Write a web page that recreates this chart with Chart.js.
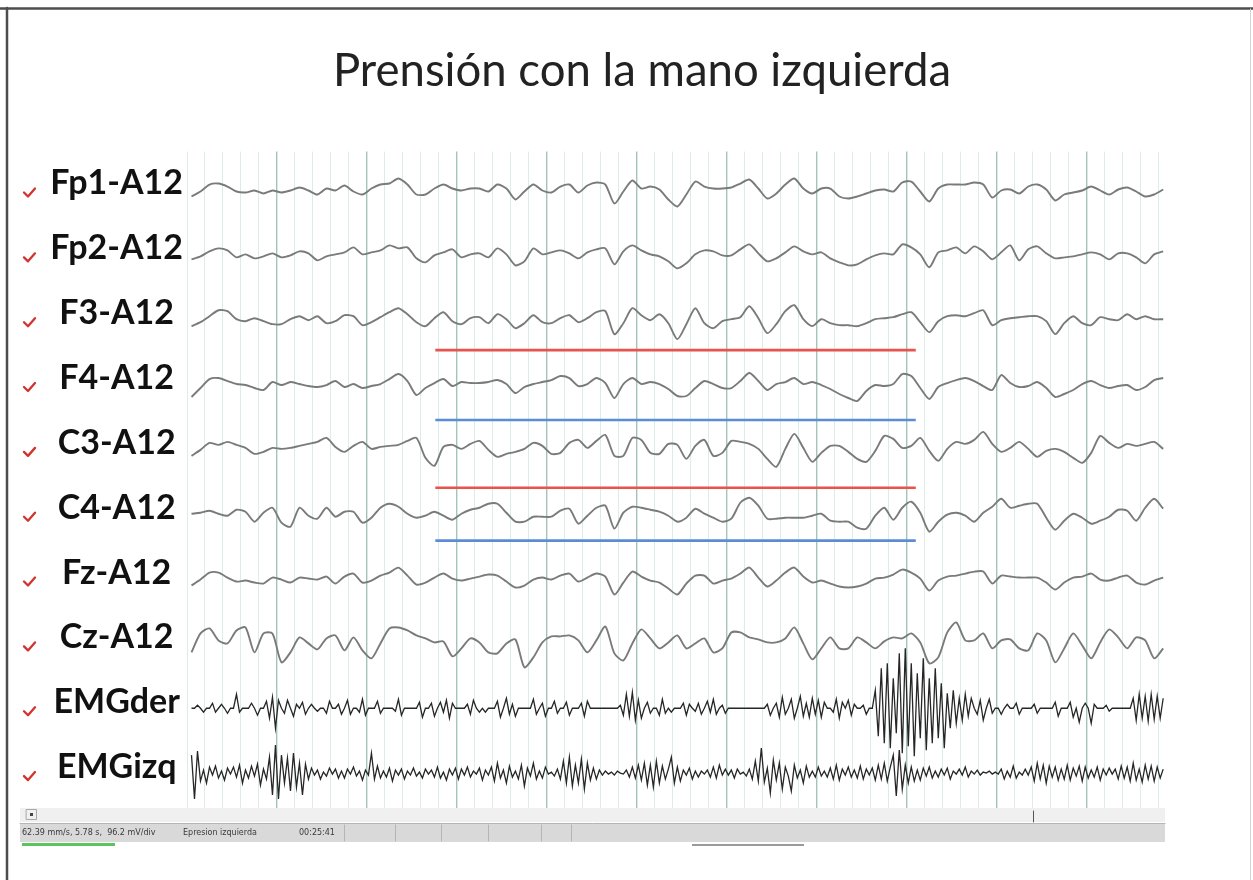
<!DOCTYPE html>
<html lang="es">
<head>
<meta charset="UTF-8">
<title>Prensión con la mano izquierda</title>
<script src="https://cdn.jsdelivr.net/npm/chart.js@4.4.1/dist/chart.umd.min.js"></script>
<style>
  html, body { margin: 0; padding: 0; background: #fff; }
  canvas { display: block; }
</style>
</head>
<body>
<canvas id="eeg" width="1253" height="880"></canvas>
<script>
// montage, top to bottom
const channels = ['Fp1-A12', 'Fp2-A12', 'F3-A12', 'F4-A12', 'C3-A12', 'C4-A12', 'Fz-A12', 'Cz-A12', 'EMGder', 'EMGizq'];

// EEG samples, one every 0.1 div, deflection in px (up = positive)
const fp1 = [-7,-2,5,6,3,-2,-3,-1,-4,-1, -3,-1,2,-1,-5,1,-1,4,-2,-5, 1,5,6,11,5,-5,-5,1,5,1,
  -1,1,1,-2,5,1,-10,-2,5,-1, -3,3,5,-3,4,7,5,-14,-2,9, 1,3,0,-10,-17,-5,8,3,1,1,
  2,6,10,1,-9,-4,5,11,1,-4, 1,1,-7,-9,-7,-4,-1,0,-2,7, 8,-2,-12,1,5,5,5,7,5,-8,
  -1,0,-4,3,5,0,-11,-5,-3,-1, 3,-1,-5,0,2,-2,-7,-5,0];
const fp2 = [-5,-2,3,6,4,-3,0,-4,-2,1, -3,-1,3,1,-6,-2,0,2,7,0, 2,4,9,6,7,-4,-8,-1,2,5,
  -3,0,1,-3,6,0,-11,-7,6,0, 2,4,1,-4,2,5,6,-10,3,9, 4,0,-2,-7,-14,-9,0,4,3,-1,
  -1,5,10,1,-7,-4,2,8,3,0, 2,-4,-8,-11,-10,-5,-1,1,0,10, 7,0,-13,2,4,7,1,8,3,-5,
  2,9,-6,5,8,1,-4,-3,-2,0, 2,0,-5,1,1,-3,-9,0,3];
const f3 = [-7,-3,3,9,8,0,-2,1,-2,-5, -5,0,3,-1,3,-4,-2,4,3,-6, -3,2,7,11,5,-3,-7,1,7,-2,
  -5,1,2,-4,5,0,-9,-4,4,-3, -4,1,4,-3,1,7,8,-15,-4,11, 4,-1,5,-4,-20,-5,11,-4,-9,-2,
  0,2,13,1,-14,-5,8,14,0,-7, 0,-4,-6,-6,-7,-4,0,1,2,5, 7,-3,-13,-2,3,4,3,6,9,-6,
  -1,1,2,3,3,-2,-15,-4,3,-4, -6,2,0,-1,5,0,3,0,0];
const f4 = [-13,-4,5,6,3,0,-1,-4,-6,2, -1,2,0,-2,-3,-1,3,-3,0,-4, -2,0,5,10,3,-11,-4,1,5,-2,
  2,1,1,2,4,0,-9,-3,0,2, 4,8,6,-2,0,6,1,-14,0,6, 0,2,0,-5,-12,-12,-4,3,0,-4,
  -4,3,11,3,-6,0,2,6,0,2, -1,-5,-10,-14,-17,-7,-1,-2,0,10, 8,-4,-15,-3,1,4,6,3,-2,-6,
  9,1,-3,-2,2,-4,-13,-10,-6,0, 3,-1,-4,-2,-1,-6,-3,4,6];
const c3 = [-7,-1,6,4,7,4,1,-5,-3,1, 0,1,3,5,7,11,2,-3,3,7, 0,2,3,4,8,11,-9,-17,2,4,
  0,5,8,-1,-8,-5,-3,0,6,3, -5,-4,6,9,1,8,14,-7,-7,11, 9,-4,-5,5,4,-10,3,9,-7,-4,
  8,7,5,0,-10,-18,0,15,1,-13, -4,3,3,-3,-10,-13,-2,13,10,1, 3,11,-2,-12,0,7,5,9,17,5,
  -3,1,7,0,-8,-2,0,-3,-9,-14, -4,13,6,1,5,3,5,7,0];
const c4 = [0,1,3,0,-2,4,2,-8,1,6, -9,-13,6,-2,-5,6,-3,2,2,-9, -4,6,10,7,0,-4,-2,2,-2,-6,
  0,4,6,10,10,1,-8,-8,-3,-3, -3,3,5,-10,-2,6,8,-15,1,7, 6,4,2,-2,-8,-4,5,0,-4,-8,
  -5,11,16,8,-5,-5,-4,-4,-4,-2, 0,-7,-8,-8,-14,-15,-2,6,-6,6, 12,1,-18,-8,-1,1,-2,-8,1,7,
  15,6,8,10,10,-4,-16,-7,0,-4, -10,-7,-3,4,3,-7,6,15,5];
const fz = [-7,-1,6,6,1,-3,-2,-4,-5,1, -1,-4,1,0,-1,2,-5,2,5,-4, -2,3,6,11,3,-6,-4,1,5,0,
  -2,0,2,4,3,-3,-9,-7,-1,1, -1,3,5,-3,1,5,2,-16,-4,7, 2,-2,-4,-10,-16,-5,3,3,-5,-2,
  0,5,11,1,-8,-2,6,11,2,-4, -2,-5,-8,-9,-8,-5,0,1,4,9, 6,0,-12,-2,2,3,5,7,7,-5,
  3,2,1,1,1,-4,-11,-4,1,2, 5,-1,-2,1,3,-4,-6,-2,1];
const cz = [-9,10,15,3,0,13,16,-9,10,10, -19,-9,6,0,-6,5,8,-7,6,-7, -15,0,15,16,13,8,5,1,2,-13,
  -5,5,1,-9,-10,0,4,-24,-14,1, 7,7,8,3,-9,3,17,-10,-17,0, 14,5,-5,1,8,-5,0,5,-9,-5,
  11,11,6,4,1,1,5,16,0,-16, -5,6,-5,-5,6,1,-5,2,6,5, 10,1,-20,-14,11,21,3,3,10,-5,
  3,4,-5,-7,10,3,-19,-5,10,-2, -15,1,14,6,-5,6,3,-15,-5];

// EMG samples, one every 1/30 div
const emgDer = [0,0,3,0,-4,0,0,5,-4,0, 4,0,-5,0,0,14,-4,0,0,0, 5,0,-7,0,0,7,-10,11,-20,8,
  0,-5,8,0,-8,4,0,6,-6,0, 4,0,-3,0,0,-5,7,0,0,4, -6,0,8,-6,0,0,-4,9,-7,0,
  0,0,7,-5,0,0,0,0,-3,9, -7,0,0,0,0,0,6,-9,0,0, 5,-8,0,6,-4,8,-10,5,0,0,
  0,0,4,-6,8,0,-4,0,-4,0, 0,0,7,-9,0,10,-6,4,-8,0, 0,0,0,0,9,-6,0,5,-8,0,
  0,7,-5,0,0,6,-7,0,0,0, 5,-8,7,0,0,0,0,0,0,0, 0,0,0,3,-7,14,-8,16,-12,8,
  -10,0,6,-5,0,0,-7,9,-5,0, -4,0,0,0,5,-7,4,0,-3,5, -6,0,7,-4,9,-6,0,3,-5,0,
  0,0,0,0,0,0,0,0,0,0, 0,0,4,-7,0,5,-9,11,-6,0, 9,-10,0,12,-8,5,-9,10,-6,8,
  -9,6,0,0,-4,9,-10,6,0,8, -7,4,0,0,3,-6,0,0,18,-28, 40,-35,45,-40,30,-25,55,-45,60,-38,
  45,-48,35,-30,50,-42,30,-35,40,-30, 25,-40,15,-20,18,-15,10,-12,14,-8, 10,0,-6,8,-12,0,9,-5,0,0,
  -6,0,4,0,0,5,-6,0,0,0, 0,4,-5,0,0,0,0,0,6,-8, 0,0,0,6,-9,0,-14,0,5,0,
  -15,4,0,0,0,3,-3,0,0,0, 0,0,0,0,10,-12,14,-10,12,-13, 14,-11,12,-10,10];
const emgIzq = [18,-26,22,-8,3,-10,6,-2,7,-5, 2,-7,5,-1,6,-4,8,-10,3,-5, 7,-3,9,-12,4,-6,16,-22,28,-26,
  18,-10,15,-18,20,-14,10,-22,9,-6, 5,-2,3,-6,1,-3,5,-1,4,-5, 2,-5,4,-1,6,-3,2,-7,3,-2,
  20,-6,7,-5,2,-4,5,-8,3,-2, 4,-6,2,-2,5,-3,1,-5,4,-1, 3,-4,6,-5,1,-7,4,-2,5,-6,
  4,-2,6,-4,2,-1,5,-7,3,-2, 6,-8,10,-5,3,-10,7,-4,2,-6, 8,-13,5,-3,10,-6,2,-5,6,-1,
  1,-3,4,-6,12,-10,16,-13,8,-10, 14,-16,10,-7,5,-6,3,-2,2,-1, 1,-2,2,0,-1,3,-4,6,-5,8,
  -7,10,-12,8,-14,12,-10,7,-6,4, 16,-10,6,-8,3,-2,5,-6,2,-4, 2,-1,3,-4,6,-5,8,-2,4,-2,
  3,-5,4,-1,1,-3,4,-6,12,-8, 25,-9,5,-20,13,-7,10,-16,6,-3, -18,8,-5,3,-10,7,-4,2,-4,6,
  -3,2,-4,5,-6,8,-7,4,-2,6, -4,3,-5,7,-6,4,-2,5,-7,8, -6,10,-8,6,18,-23,23,-16,8,-10,
  6,-8,3,-7,5,-3,6,-5,2,-4, 4,-2,5,-6,2,-1,4,-2,6,-4, 2,-1,3,-2,1,0,2,-1,1,-1,
  4,-6,2,-4,7,-5,1,-2,4,-2, 6,-8,10,-6,8,-10,7,-4,6,-7, 4,-6,8,-7,5,-3,7,-8,6,-5,
  3,-4,6,-7,4,-2,5,-1,4,-6, 7,-5,6,-8,10,-7,4,-9,8,-6, 7,-8,6,-5,4];

// marked interval (div)
const markSpan = [2.76, 8.1];

// status line of the recorder
const statusText = ['62.39 mm/s, 5.78 s,  96.2 mV/div', 'Epresion izquierda', '00:25:41'];

const ROW = 65;            // px between channel baselines
const T0 = 0.05;           // first sample (div)
const EEG_DT = 0.1, EMG_DT = 1 / 30;
const traces = [fp1, fp2, f3, f4, c3, c4, fz, cz, emgDer, emgIzq];

const datasets = traces.map((vals, i) => {
  const emg = i >= 8;
  const dt = emg ? EMG_DT : EEG_DT;
  return {
    label: channels[i],
    data: vals.map((v, k) => ({ x: T0 + k * dt, y: v - i * ROW })),
    borderColor: emg ? '#262626' : '#7a7a7a',
    borderWidth: emg ? 1.3 : 1.9,
    tension: emg ? 0 : 0.25,
    pointRadius: 0
  };
});

// red / blue bars under F3, F4, C3, C4
const bars = [[2, 31, '#e8534c'], [3, 36, '#5a8dd6'], [4, 39, '#e8534c'], [5, 27, '#5a8dd6']];
bars.forEach(([row, off, col]) => {
  datasets.push({
    label: 'mark',
    data: markSpan.map(x => ({ x: x, y: -row * ROW - off })),
    borderColor: col,
    borderWidth: 2.6,
    pointRadius: 0
  });
});

const PAD_L = 36, PAD_R = 5;   // keeps the title centred over the trace area

const decor = {
  id: 'decor',
  afterDraw(chart) {
    const ctx = chart.ctx;
    const ys = chart.scales.y;
    ctx.save();

    // check marks beside the channel names
    ctx.strokeStyle = '#d2332c';
    ctx.lineWidth = 2.3;
    ctx.lineCap = 'round';
    ctx.lineJoin = 'round';
    channels.forEach((_, i) => {
      const py = ys.getPixelForValue(-i * ROW) + 4;
      ctx.beginPath();
      ctx.moveTo(24, py - 1);
      ctx.lineTo(28, py + 3);
      ctx.lineTo(35, py - 5);
      ctx.stroke();
    });

    // scroll row
    ctx.fillStyle = '#f0f0f0';
    ctx.fillRect(20, 808, 1145, 14);
    ctx.strokeStyle = '#a8a8a8';
    ctx.lineWidth = 1;
    ctx.strokeRect(26.5, 809.5, 10, 10);
    ctx.fillStyle = '#444';
    ctx.fillRect(30, 813, 3, 3);
    ctx.strokeStyle = '#555';
    ctx.beginPath();
    ctx.moveTo(1033.5, 811);
    ctx.lineTo(1033.5, 822);
    ctx.stroke();

    // status bar
    ctx.fillStyle = '#d9d9d9';
    ctx.fillRect(20, 823, 1145, 19);
    ctx.strokeStyle = '#b5b5b5';
    ctx.beginPath();
    ctx.moveTo(20, 823.5);
    ctx.lineTo(1165, 823.5);
    [344, 395, 441, 488, 541, 571].forEach(x => {
      ctx.moveTo(x + 0.5, 825);
      ctx.lineTo(x + 0.5, 841);
    });
    ctx.stroke();
    ctx.fillStyle = '#3a3a3a';
    ctx.font = '8px "DejaVu Sans"';
    ctx.textBaseline = 'middle';
    ctx.fillText(statusText[0], 22, 833);
    ctx.fillText(statusText[1], 183, 833);
    ctx.fillText(statusText[2], 299, 833);
    ctx.fillStyle = '#5cc45c';
    ctx.fillRect(22, 843, 93, 3);
    ctx.fillStyle = '#9a9a9a';
    ctx.fillRect(692, 844, 112, 2);

    // page frame
    ctx.strokeStyle = '#4d4d4d';
    ctx.lineWidth = 2.5;
    ctx.beginPath();
    ctx.moveTo(0, 8.5);
    ctx.lineTo(1253, 8.5);
    ctx.moveTo(7, 8);
    ctx.lineTo(7, 880);
    ctx.stroke();
    ctx.strokeStyle = '#d4d4d4';
    ctx.lineWidth = 1;
    ctx.beginPath();
    ctx.moveTo(1250.5, 9);
    ctx.lineTo(1250.5, 880);
    ctx.stroke();

    ctx.restore();
  }
};

function draw() {
  new Chart(document.getElementById('eeg'), {
    type: 'line',
    data: { datasets: datasets },
    options: {
      responsive: false,
      animation: false,
      devicePixelRatio: 1,
      layout: { padding: { left: PAD_L, right: PAD_R, top: 0, bottom: 72 } },
      plugins: {
        legend: { display: false },
        tooltip: { enabled: false },
        title: {
          display: true,
          text: 'Prensión con la mano izquierda',
          color: '#222',
          font: { family: 'Lato', size: 45.5, weight: 'normal' },
          padding: { top: 44, bottom: 53 }
        }
      },
      scales: {
        x: {
          type: 'linear',
          min: 0,
          max: 10.87,
          afterBuildTicks: s => {
            s.ticks = [];
            for (let i = 0; i <= 54; i++) s.ticks.push({ value: i * 0.2 });
          },
          ticks: { display: false },
          grid: {
            drawTicks: false,
            color: c => (c.index > 0 && c.index % 5 === 0) ? '#a4c3b9' : '#dcede7',
            lineWidth: c => (c.index > 0 && c.index % 5 === 0) ? 1.4 : 1
          },
          border: { display: false }
        },
        y: {
          type: 'linear',
          min: -620,
          max: 38,
          afterBuildTicks: s => {
            s.ticks = channels.map((_, i) => ({ value: -i * ROW })).reverse();
          },
          afterFit: s => { s.width = 187 - PAD_L; },
          ticks: {
            autoSkip: false,
            crossAlign: 'center',
            padding: 4,
            labelOffset: -6,
            color: '#111',
            font: { family: 'Lato', size: 34, weight: 'bold' },
            callback: v => channels[Math.round(-v / ROW)]
          },
          grid: { display: false, drawTicks: false },
          border: { display: false }
        },
        // empty right-hand margin column
        yR: {
          type: 'linear',
          position: 'right',
          min: -620,
          max: 38,
          afterFit: s => { s.width = 1253 - PAD_R - 1165; },
          ticks: { display: false },
          grid: { display: false, drawTicks: false },
          border: { display: false }
        }
      }
    },
    plugins: [decor]
  });
}

Promise.all([
  document.fonts.load('bold 34px Lato'),
  document.fonts.load('45.5px Lato')
]).then(draw, draw);
</script>
</body>
</html>
